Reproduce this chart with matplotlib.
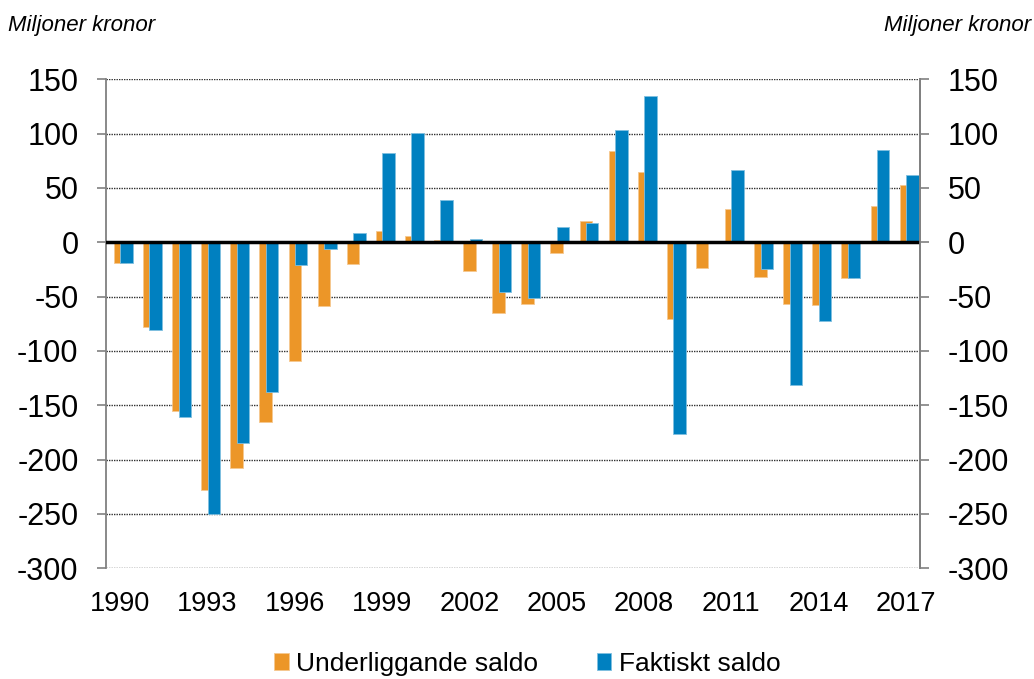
import numpy as np
import matplotlib
matplotlib.use('Agg')
from matplotlib import pyplot as plt

plt.rcParams['font.family'] = ['Liberation Sans', 'DejaVu Sans']
plt.rcParams['axes.unicode_minus'] = False

# Data (miljoner kronor)
years = list(range(1990, 2018))
underliggande = [-19, -78, -155, -228, -208, -165, -109, -59, -20, 10,
                 6, 2, -26, -65, -57, -10, 20, 84, 65, -71,
                 -24, 31, -32, -57, -58, -33, 33, 53]
faktiskt = [-19, -81, -161, -250, -185, -138, -21, -6, 9, 82,
            101, 39, 3, -46, -51, 14, 18, 103, 135, -176,
            0, 67, -25, -131, -72, -33, 85, 62]
tick_years = [str(y) for y in range(1990, 2018, 3)]

orange = '#EC9628'
blue = '#0080C0'

x = np.arange(len(years))

fig = plt.figure(figsize=(10.34, 6.79), dpi=100)
ax = fig.add_axes([0.1022, 0.163, 0.788, 0.7202])

ax.bar(x, underliggande, width=0.43, color=orange, edgecolor='#F6C890', linewidth=0.6, label='Underliggande saldo', zorder=3)
ax.bar(x + 0.22, faktiskt, width=0.43, color=blue, edgecolor='#7FBFE0', linewidth=0.6, label='Faktiskt saldo', zorder=4)

ax.set_xlim(-0.5, len(years) - 0.5)
ax.set_ylim(-300, 150)
ax.set_yticks(np.arange(-300, 151, 50))

# gridlines (dotted), solid zero line
for v in range(-300, 151, 50):
    if v != 0:
        ax.axhline(v, color='#303030', linestyle=(0, (1, 0.8)), linewidth=1.0, zorder=1)
ax.axhline(0, color='black', linewidth=2.5, zorder=5)

ax.set_xticks([i for i, y in enumerate(years) if (y - 1990) % 3 == 0])
ax.set_xticklabels(tick_years, fontsize=19.5)
ax.tick_params(axis='x', length=0, pad=16)
ax.tick_params(axis='y', labelsize=22, length=6.5, width=1.2, color='#808080', pad=13)

for s in ['top', 'bottom']:
    ax.spines[s].set_visible(False)
ax.spines['left'].set_color('#808080')
ax.spines['left'].set_linewidth(1.3)
ax.spines['right'].set_color('#808080')
ax.spines['right'].set_linewidth(1.3)

# right axis
ax2 = ax.twinx()
ax2.set_ylim(ax.get_ylim())
ax2.set_yticks(np.arange(-300, 151, 50))
ax2.tick_params(axis='y', labelsize=22, length=6.5, width=1.2, color='#808080', pad=13)
for s in ['top', 'bottom', 'left']:
    ax2.spines[s].set_visible(False)
ax2.spines['right'].set_color('#808080')
ax2.spines['right'].set_linewidth(1.3)

fig.text(0.008, 0.962, 'Miljoner kronor', fontsize=16, style='italic', ha='left', va='center')
fig.text(0.997, 0.962, 'Miljoner kronor', fontsize=16, style='italic', ha='right', va='center')

fig.legend(loc='center', bbox_to_anchor=(0.51, 0.022), ncol=2, frameon=False, fontsize=19,
           handlelength=0.55, handleheight=0.6, handletextpad=0.3, columnspacing=2.2)

fig.savefig('out.png', dpi=100)
